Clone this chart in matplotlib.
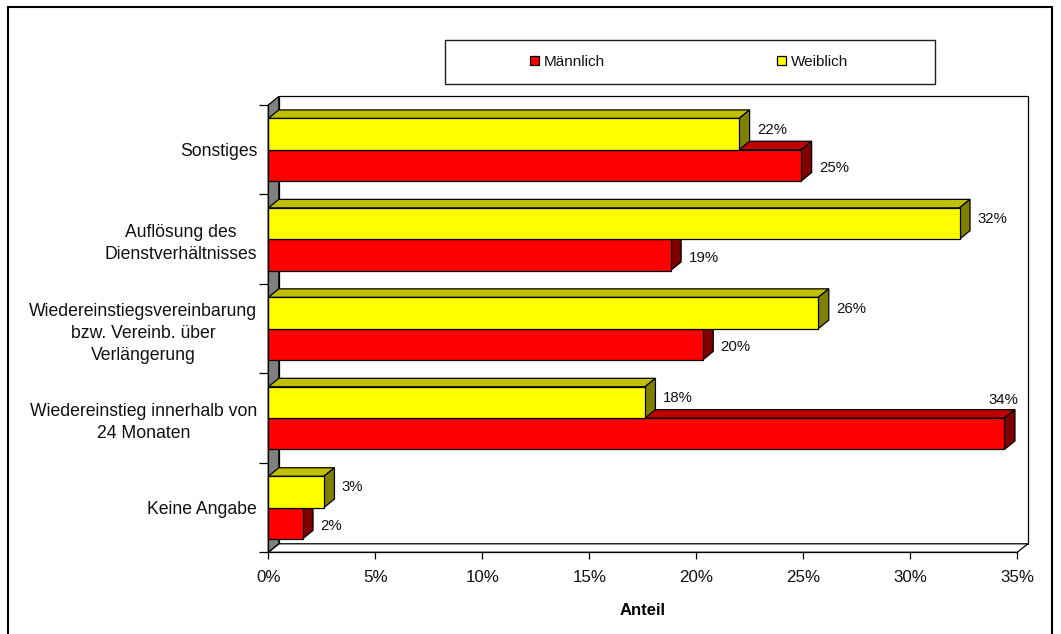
import matplotlib
matplotlib.use('Agg')
import matplotlib.pyplot as plt
from matplotlib.patches import Polygon, Rectangle
from matplotlib.ticker import FuncFormatter

plt.rcParams['font.family'] = ['Liberation Sans', 'DejaVu Sans']

# DATA (bottom to top, as drawn)
categories = ['Keine Angabe',
              'Wiedereinstieg innerhalb von\n24 Monaten',
              'Wiedereinstiegsvereinbarung\nbzw. Vereinb. über\nVerlängerung',
              'Auflösung des\nDienstverhältnisses',
              'Sonstiges']
maennlich = [1.6, 34.4, 20.3, 18.8, 24.9]
weiblich = [2.6, 17.6, 25.7, 32.3, 22.0]
series_names = ['Männlich', 'Weiblich']
xticks = [0, 5, 10, 15, 20, 25, 30, 35]

# colours: front, top, side
red = ('#FF0000', '#C00000', '#800000')
yellow = ('#FFFF00', '#C0C000', '#808000')

W, H = 1061, 634
fig = plt.figure(figsize=(W / 100, H / 100), dpi=100)

# front plane of the 3D plot in pixels
x0, x1 = 268.3, 1017.3
ytop, ybot = 105.0, 552.3
ax = fig.add_axes([x0 / W, 1 - ybot / H, (x1 - x0) / W, (ybot - ytop) / H])
xmax = 35
nc = len(categories)
ax.set_xlim(0, xmax)
ax.set_ylim(0, nc)

# depth offset (in data units)
DX = 10.5 / (x1 - x0) * xmax
DY = 8.5 / (ybot - ytop) * nc
h = 0.35
lw = 0.9

# walls and floor
ax.add_patch(Polygon([(DX, DY), (DX, nc + DY), (xmax + DX, nc + DY), (xmax + DX, DY)],
                     closed=True, fc='white', ec='black', lw=lw, clip_on=False, zorder=0.5))
ax.add_patch(Polygon([(0, 0), (xmax, 0), (xmax + DX, DY), (DX, DY)],
                     closed=True, fc='white', ec='black', lw=lw, clip_on=False, zorder=0.6))
ax.add_patch(Polygon([(0, 0), (0, nc), (DX, nc + DY), (DX, DY)],
                     closed=True, fc='#808080', ec='black', lw=lw, clip_on=False, zorder=0.7))

ypos = [i + 0.5 for i in range(nc)]


def bars3d(vals, offs, cols, z):
    bc = ax.barh([y + offs for y in ypos], vals, height=h, align='edge', color=cols[0],
                 edgecolor='black', linewidth=lw, zorder=z + 0.2, clip_on=False)
    for y, v in zip(ypos, vals):
        yb = y + offs
        yt = yb + h
        ax.add_patch(Polygon([(0, yt), (v, yt), (v + DX, yt + DY), (DX, yt + DY)], closed=True,
                             fc=cols[1], ec='black', lw=lw, clip_on=False, zorder=z))
        ax.add_patch(Polygon([(v, yb), (v + DX, yb + DY), (v + DX, yt + DY), (v, yt)], closed=True,
                             fc=cols[2], ec='black', lw=lw, clip_on=False, zorder=z + 0.1))
    return bc


bm = bars3d(maennlich, -h, red, 2)
bw = bars3d(weiblich, 0, yellow, 3)

# data labels
for vals, offs in ((maennlich, -h), (weiblich, 0)):
    for y, v in zip(ypos, vals):
        txt = '%d%%' % round(v)
        if v + DX + 1.8 > xmax:
            ax.text(v + DX + 0.15, y + offs + h + DY + 0.03, txt, ha='right', va='bottom',
                    fontsize=10.8, color='#111111', zorder=5, clip_on=False)
        else:
            dy = 0.05 if offs == 0 else -0.03
            ax.text(v + DX + 0.35, y + offs + h / 2 + dy, txt, ha='left', va='center',
                    fontsize=10.8, color='#111111', zorder=5, clip_on=False)

# axes styling
for s in ('top', 'right'):
    ax.spines[s].set_visible(False)
for s in ('left', 'bottom'):
    ax.spines[s].set_linewidth(lw)
    ax.spines[s].set_zorder(4)
ax.set_facecolor('none')

ax.set_yticks(range(nc + 1))
ax.set_yticklabels([])
ax.set_yticks(ypos, minor=True)
ax.set_yticklabels(categories, minor=True, fontsize=12.7, color='#111111')
for lbl in ax.get_yticklabels(minor=True):
    lbl.set_multialignment('center')
    lbl.set_linespacing(1.4)
ax.tick_params(axis='y', which='major', length=6.5, width=lw)
ax.tick_params(axis='y', which='minor', length=0, pad=8)

ax.set_xticks(xticks)
ax.xaxis.set_major_formatter(FuncFormatter(lambda v, p: '%d%%' % v))
ax.tick_params(axis='x', length=5.3, width=lw, pad=7.5, labelsize=12.2, labelcolor='#111111')
ax.set_xlabel('Anteil', fontsize=12, fontweight='bold', labelpad=13)

# legend box
fig.patches.append(Rectangle((445 / W, 1 - 84 / H), 490 / W, 44 / H, transform=fig.transFigure,
                             fc='white', ec='#202020', lw=1.0))
for handle, name, cx in ((bm, series_names[0], 567.5), (bw, series_names[1], 812.5)):
    fig.legend([handle], [name], loc='center', bbox_to_anchor=(cx / W, 1 - 62 / H),
               frameon=False, fontsize=11, handlelength=0.6, handleheight=0.6,
               handletextpad=0.33, borderpad=0, labelcolor='#111111')

# outer frame
fig.patches.append(Rectangle((8 / W, -0.05), 1044 / W, 1.05 - 6.5 / H, transform=fig.transFigure,
                             fc='none', ec='black', lw=1.5))

fig.savefig('out.png', dpi=100)
